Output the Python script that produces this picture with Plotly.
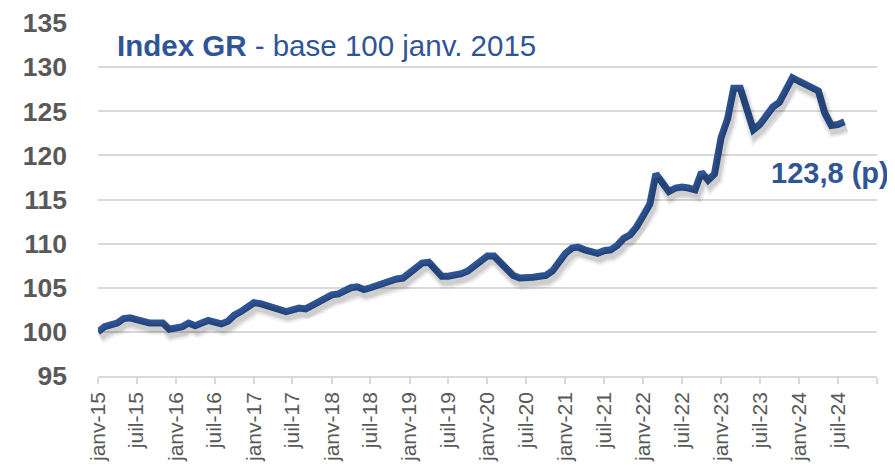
import pandas as pd
import plotly.graph_objects as go

# Monthly index values, janv-2015 .. août-2024 (base 100 janv. 2015)
index_gr = [
    100.0, 100.6, 100.8, 101.0, 101.5, 101.6, 101.4, 101.1, 101.0, 101.0, 101.0, 100.3,
    100.4, 100.6, 101.0, 100.7, 101.0, 101.3, 101.1, 100.9, 101.2, 101.9, 102.3, 102.7,
    103.3, 103.2, 103.0, 102.8, 102.5, 102.3, 102.5, 102.7, 102.6, 103.0, 103.4, 103.9,
    104.2, 104.3, 104.6, 105.0, 105.1, 104.8, 105.0, 105.3, 105.6, 105.8, 106.0, 106.1,
    106.7, 107.3, 107.8, 107.9, 107.0, 106.3, 106.3, 106.4, 106.6, 106.9, 107.4, 108.1,
    108.6, 108.6, 107.8, 107.0, 106.4, 106.1, 106.1, 106.2, 106.3, 106.4, 106.9, 107.9,
    108.9, 109.5, 109.6, 109.3, 109.0, 108.9, 109.2, 109.3, 109.8, 110.6, 111.0, 111.9,
    113.2, 114.5, 117.9, 116.9, 115.9, 116.3, 116.4, 116.3, 116.1, 118.1, 117.2, 117.9,
    122.0, 124.2, 127.6, 127.6, 125.2, 122.9, 123.5, 124.5, 125.5, 126.0, 127.5, 128.8,
    128.4, 128.0, 127.7, 127.3, 124.8, 123.4, 123.5, 123.8,
]
months = pd.date_range("2015-01-01", periods=len(index_gr), freq="MS")

tick_dates = pd.date_range("2015-01-01", "2025-01-01", freq="6MS")
tick_labels = [
    "janv-15", "juil-15", "janv-16", "juil-16", "janv-17", "juil-17",
    "janv-18", "juil-18", "janv-19", "juil-19", "janv-20", "juil-20",
    "janv-21", "juil-21", "janv-22", "juil-22", "janv-23", "juil-23",
    "janv-24", "juil-24", "",
]
y_ticks = [95, 100, 105, 110, 115, 120, 125, 130, 135]

title_text = "<b>Index GR</b> - base 100 janv. 2015"
last_label = "123,8 (p)"

BLUE = "#2F5597"
GREY = "#595959"
GRID = "#d9d9d9"
FONT = "Liberation Sans, Arial, sans-serif"

fig = go.Figure()

# soft shadow (same data on slightly shifted overlay axes)
for w, a in [(14, 0.05), (10, 0.07), (7, 0.08)]:
    fig.add_trace(go.Scatter(
        x=months, y=index_gr, mode="lines",
        line=dict(color=f"rgba(0,0,0,{a})", width=w),
        xaxis="x2", yaxis="y2", hoverinfo="skip", showlegend=False,
    ))

fig.add_trace(go.Scatter(
    x=months, y=index_gr, mode="lines",
    line=dict(color=BLUE, width=7),
    showlegend=False,
))

x_range = ["2015-01-01", "2025-01-01"]
x_range_shadow = ["2014-12-22", "2024-12-22"]
y_range = [95, 135]
y_shift = 0.6

# the page body adds an 8px offset, so the figure is 8px smaller
fig.update_layout(
    width=887, height=457,
    margin=dict(l=90, r=18, t=15, b=89),
    paper_bgcolor="white", plot_bgcolor="white",
    font=dict(family=FONT, color=GREY),
    xaxis=dict(
        type="date", range=x_range, automargin=False,
        tickvals=tick_dates, ticktext=tick_labels,
        tickangle=-90, tickfont=dict(size=21, color=GREY, family=FONT),
        ticks="outside", ticklen=6, tickcolor=GRID, tickwidth=1.5,
        showline=True, linecolor=GRID, linewidth=1.5,
        showgrid=False, zeroline=False,
    ),
    yaxis=dict(
        range=y_range, tickvals=y_ticks, automargin=False,
        tickfont=dict(size=26.5, color=GREY, family=FONT, weight="bold"),
        showgrid=True, gridcolor=GRID, gridwidth=1.5,
        zeroline=False, showline=False, ticks="",
        ticklabelstandoff=30,
    ),
    xaxis2=dict(type="date", range=x_range_shadow, overlaying="x",
                visible=False, showgrid=False),
    yaxis2=dict(range=[y_range[0] + y_shift, y_range[1] + y_shift],
                overlaying="y", visible=False, showgrid=False),
    annotations=[
        dict(text=title_text, xref="paper", yref="paper",
             x=0.0218, y=0.935, xanchor="left", yanchor="middle",
             showarrow=False, font=dict(size=29.5, color=BLUE, family=FONT)),
        dict(text=f"<b>{last_label}</b>", xref="paper", yref="paper",
             x=0.862, y=0.575, xanchor="left", yanchor="middle",
             showarrow=False, font=dict(size=29, color=BLUE, family=FONT)),
    ],
)

fig.write_html("out.html")
